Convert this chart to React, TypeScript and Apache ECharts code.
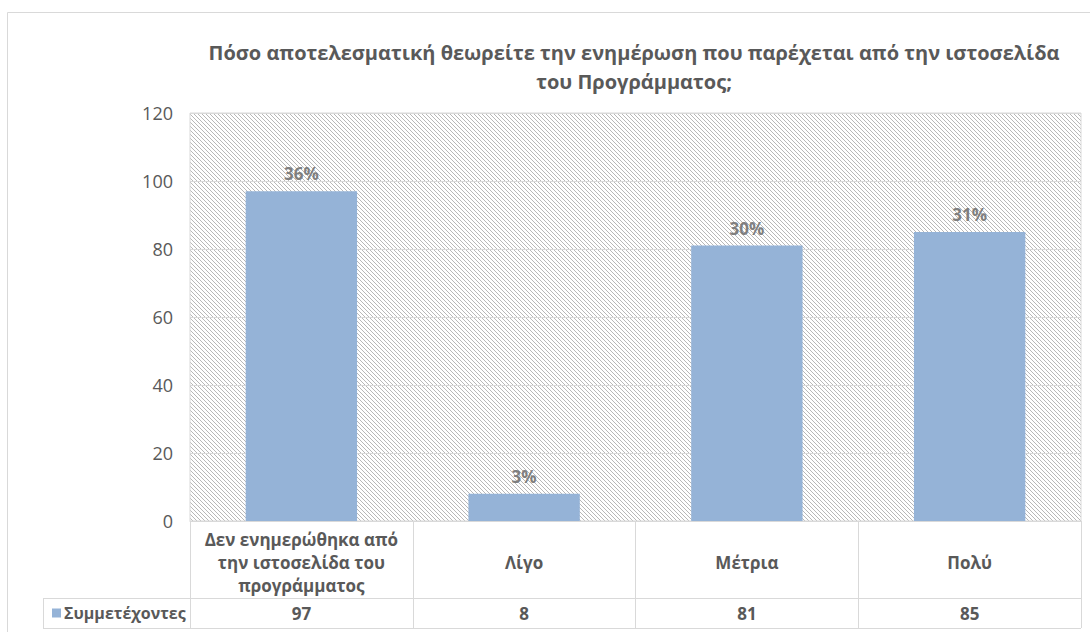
import React, { useEffect, useRef } from "react";
import * as echarts from "echarts";

const titleText =
  "Πόσο αποτελεσματική θεωρείτε την ενημέρωση που παρέχεται από την ιστοσελίδα\nτου Προγράμματος;";
const seriesName = "Συμμετέχοντες";
const categories = [
  "Δεν ενημερώθηκα από\nτην ιστοσελίδα του\nπρογράμματος",
  "Λίγο",
  "Μέτρια",
  "Πολύ",
];
const values = [97, 8, 81, 85];
const pctLabels = ["36%", "3%", "30%", "31%"];
const yTicks = { min: 0, max: 120, interval: 20 };

const FONT = "'Open Sans', 'Noto Sans', sans-serif";
const GRAY = "#595959";
const LINE = "#d9d9d9";
const BAR = "#95b3d7";

function makeHatch(): HTMLCanvasElement {
  const c = document.createElement("canvas");
  c.width = 4;
  c.height = 4;
  const ctx = c.getContext("2d")!;
  ctx.fillStyle = "#ffffff";
  ctx.fillRect(0, 0, 4, 4);
  ctx.fillStyle = "#b8b8b8";
  for (let i = 0; i < 4; i++) ctx.fillRect(i, i, 1, 1);
  return c;
}

export default function App() {
  const ref = useRef<HTMLDivElement>(null);
  useEffect(() => {
    if (!ref.current) return;
    const chart = echarts.init(ref.current, undefined, { renderer: "svg" });
    const gridLeft = 190;
    const gridRight = 1081;
    const gridTop = 113;
    const gridBottomY = 521;
    const rowY = 598;
    const tableBottom = 628;
    const headerLeft = 43;
    chart.setOption({
      animation: false,
      backgroundColor: "#ffffff",
      textStyle: { fontFamily: FONT },
      title: {
        text: titleText,
        left: 634,
        top: 38,
        padding: 0,
        textAlign: "center",
        textStyle: {
          fontFamily: FONT,
          fontSize: 20,
          fontWeight: "bold",
          color: GRAY,
          lineHeight: 29,
        },
      },
      legend: {
        show: true,
        data: [seriesName],
        left: 52,
        top: 603,
        padding: 0,
        itemWidth: 9,
        itemHeight: 9,
        itemGap: 3,
        icon: "rect",
        textStyle: {
          fontFamily: FONT,
          fontSize: 16,
          fontWeight: "bold",
          color: GRAY,
          lineHeight: 20,
          padding: [0, 0, 0, -2],
        },
      },
      grid: {
        left: gridLeft,
        right: 1090 - gridRight,
        top: gridTop,
        bottom: 632 - gridBottomY,
        show: true,
        backgroundColor: { image: makeHatch(), repeat: "repeat" },
        borderColor: LINE,
        borderWidth: 1,
        containLabel: false,
        outerBoundsMode: "none",
      },
      xAxis: [
        {
          type: "category",
          data: categories,
          position: "bottom",
          axisLine: { show: true, lineStyle: { color: LINE, width: 1 } },
          axisTick: {
            show: true,
            interval: 0,
            length: tableBottom - gridBottomY,
            lineStyle: { color: LINE, width: 1 },
          },
          axisLabel: {
            interval: 0,
            margin: 41,
            verticalAlign: "middle",
            fontFamily: FONT,
            fontSize: 17,
            fontWeight: "bold",
            color: GRAY,
            lineHeight: 23,
            align: "center",
          },
        },
        {
          type: "category",
          data: values.map((v) => String(v)),
          position: "bottom",
          offset: rowY - gridBottomY,
          axisLine: { show: false },
          axisTick: { show: false },
          axisLabel: {
            interval: 0,
            margin: 15,
            verticalAlign: "middle",
            fontFamily: FONT,
            fontSize: 17,
            fontWeight: "bold",
            color: GRAY,
          },
        },
      ],
      yAxis: {
        type: "value",
        min: yTicks.min,
        max: yTicks.max,
        interval: yTicks.interval,
        axisLine: { show: false },
        axisTick: { show: false },
        splitLine: { show: true, lineStyle: { color: LINE, width: 1 } },
        axisLabel: {
          margin: 17,
          fontFamily: FONT,
          fontSize: 18,
          color: GRAY,
        },
      },
      series: [
        {
          name: seriesName,
          type: "bar",
          xAxisIndex: 0,
          data: values,
          barCategoryGap: "50%",
          itemStyle: { color: BAR },
          label: {
            show: true,
            position: "top",
            distance: 9,
            formatter: (p: any) => pctLabels[p.dataIndex],
            fontFamily: FONT,
            fontSize: 17,
            fontWeight: "bold",
            color: "#7f7f7f",
          },
        },
      ],
      graphic: [
        {
          type: "rect",
          shape: { x: 7.5, y: 12.5, width: 1200, height: 800 },
          style: { fill: "none", stroke: LINE, lineWidth: 1 },
          silent: true,
          z: -10,
        },
        {
          type: "line",
          shape: { x1: headerLeft, y1: rowY + 0.5, x2: gridRight, y2: rowY + 0.5 },
          style: { stroke: LINE, lineWidth: 1 },
          silent: true,
        },
        {
          type: "line",
          shape: { x1: headerLeft, y1: tableBottom + 0.5, x2: gridRight, y2: tableBottom + 0.5 },
          style: { stroke: LINE, lineWidth: 1 },
          silent: true,
        },
        {
          type: "line",
          shape: { x1: headerLeft + 0.5, y1: rowY, x2: headerLeft + 0.5, y2: tableBottom },
          style: { stroke: LINE, lineWidth: 1 },
          silent: true,
        },
      ],
    });
    return () => chart.dispose();
  }, []);
  return (
    <div
      ref={ref}
      style={{ position: "absolute", left: 0, top: 0, width: 1090, height: 632 }}
    />
  );
}
